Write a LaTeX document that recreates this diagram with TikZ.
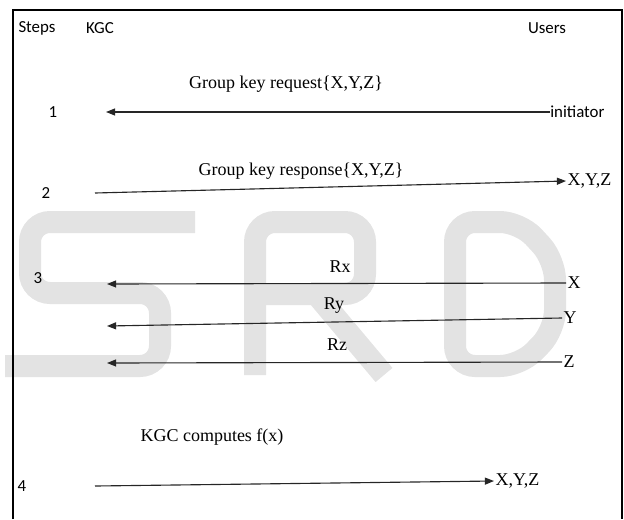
\documentclass[tikz,border=0pt]{standalone}
\usepackage{fontspec}
\setmainfont{Liberation Serif}
\setsansfont{Carlito}
\usepackage{tikz}
\usetikzlibrary{positioning,arrows.meta}
\definecolor{colMarcaAgua}{HTML}{E3E3E3}
\colorlet{colFlecha}{black!85}
\tikzset{
  etiqueta/.style={font=\sffamily\fontsize{12}{14}\selectfont, inner sep=0pt},
  mensaje/.style={font=\fontsize{12.8}{15}\selectfont, inner sep=0pt},
  extremo/.style={font=\fontsize{12.8}{15}\selectfont, inner sep=1pt, anchor=west},
  flecha/.style={-{Triangle[length=6.5pt,width=5pt]}, line width=0.8pt, draw=colFlecha},
  marca/.style={draw=colMarcaAgua, line width=0.55cm, rounded corners=0.5cm},
}

\begin{document}
\begin{tikzpicture}
    \useasboundingbox (0,0) rectangle (15.6,12.975);

    % Marca de agua
    \draw[marca] (4.875,7.425) -- (0.75,7.425) -- (0.75,5.65) -- (4.0,5.65) -- (4.0,3.825) -- (0.125,3.825); % S
    \draw[marca] (6.375,3.6) -- (6.375,7.425) -- (9.125,7.425) -- (9.125,5.625) -- (6.375,5.625); % R
    \draw[marca] (7.9,5.625) -- (9.6,3.6);
    \draw[marca] (11.375,3.825) -- (11.375,7.425) -- (13.0,7.425) -- (13.875,6.475) -- (13.875,4.725) -- (13.0,3.825) -- cycle; % D

    % Marco
    \draw[line width=1.2pt] (0.325,0) -- (0.325,12.725) -- (15.55,12.725) -- (15.55,0);

    % Encabezados
    \node[etiqueta] (pasos) at (0.925,12.27) {Steps};
    \node[etiqueta] (kgc) at (2.5,12.27) {KGC};
    \node[etiqueta] (usuarios) at (13.675,12.27) {Users};

    % Paso 1
    \node[etiqueta] (p1) at (1.325,10.175) {1};
    \node[mensaje] (req) at (7.15,10.875) {Group key request\{X,Y,Z\}};
    \node[etiqueta, anchor=west] (ini) at (13.75,10.175) {initiator};
    \coordinate (k1) at (2.65,10.175);
    \draw[flecha] (ini.west) -- (k1);

    % Paso 2
    \node[etiqueta] (p2) at (1.15,8.15) {2};
    \node[mensaje] (resp) at (7.525,8.7) {Group key response\{X,Y,Z\}};
    \node[extremo] (xyz2) at (14.15,8.45) {X,Y,Z};
    \coordinate (k2) at (2.375,8.15);
    \draw[flecha] (k2) -- (xyz2.west);

    % Paso 3
    \node[etiqueta] (p3) at (0.95,6.025) {3};
    \node[mensaje] (rx) at (8.5,6.3) {Rx};
    \node[extremo] (ux) at (14.15,5.9) {X};
    \coordinate (kx) at (2.675,5.875);
    \draw[flecha] (ux.west) -- (kx);

    \node[mensaje] (ry) at (8.35,5.325) {Ry};
    \node[extremo] (uy) at (14.05,5.025) {Y};
    \coordinate (ky) at (2.675,4.825);
    \draw[flecha] (uy.west) -- (ky);

    \node[mensaje] (rz) at (8.425,4.35) {Rz};
    \node[extremo] (uz) at (14.05,3.925) {Z};
    \coordinate (kz) at (2.675,3.9);
    \draw[flecha] (uz.west) -- (kz);

    % Paso 4
    \node[etiqueta] (p4) at (0.55,0.825) {4};
    \node[mensaje] (calc) at (5.3,2.05) {KGC computes f(x)};
    \node[extremo] (xyz4) at (12.35,0.95) {X,Y,Z};
    \coordinate (k4) at (2.375,0.825);
    \draw[flecha] (k4) -- (xyz4.west);
\end{tikzpicture}
\end{document}
